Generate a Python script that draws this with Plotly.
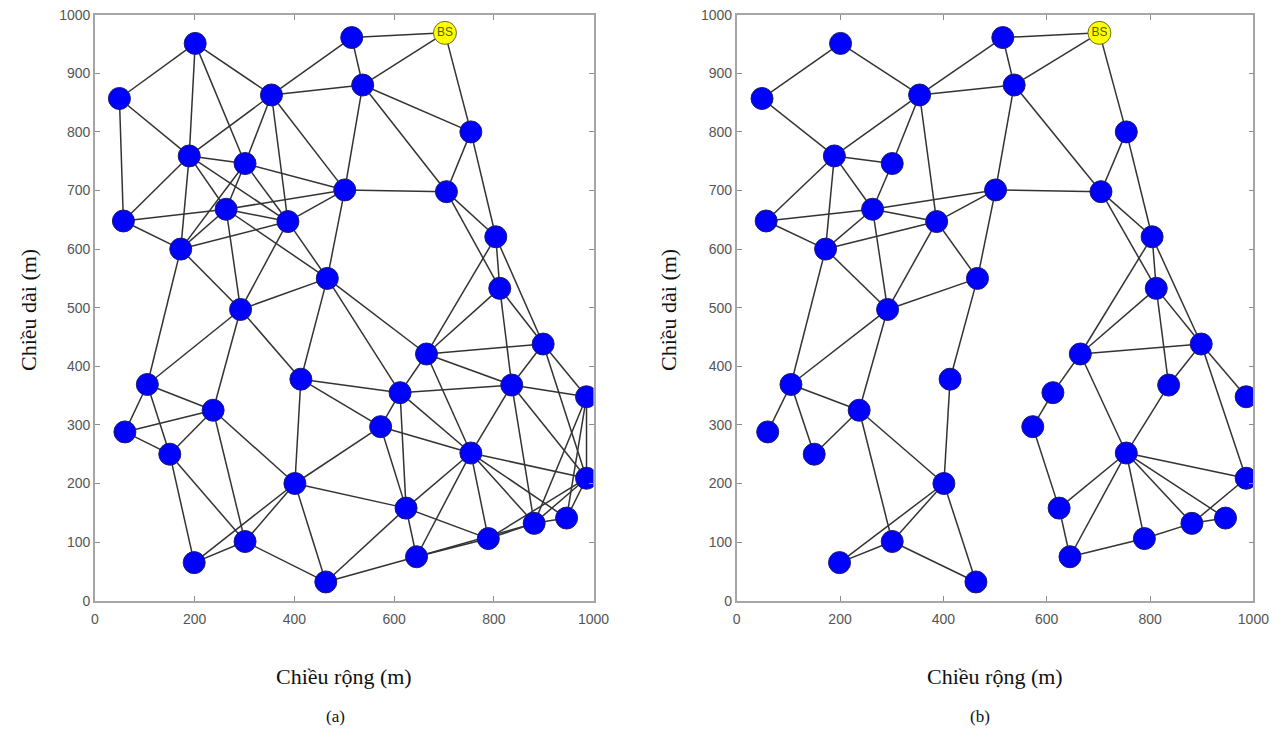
import plotly.graph_objects as go

# ---- data: node positions (node 3 is the base station BS) ----
node_ids = list(range(1, 42))
node_x = [201, 515, 702, 49, 354, 537, 754, 189, 301, 501,
          705, 57, 263, 387, 172, 804, 812, 466, 292, 665,
          899, 105, 413, 612, 836, 986, 60, 237, 573, 150,
          754, 986, 401, 624, 881, 946, 789, 199, 301, 463, 645]
node_y = [951, 961, 969, 857, 863, 880, 800, 759, 746, 701,
          698, 648, 668, 647, 600, 621, 533, 550, 497, 421,
          438, 369, 378, 355, 368, 348, 288, 325, 297, 250,
          252, 209, 200, 158, 132, 141, 106, 65, 101, 32, 75]
bs_id = 3

edges_a = [
    (1, 4), (1, 5), (1, 8), (1, 9), (2, 5), (2, 6), (2, 3), (5, 6), (5, 8), (5, 9),
    (5, 14), (5, 10), (6, 3), (6, 7), (6, 10), (6, 11), (3, 7), (4, 8), (4, 12),
    (8, 9), (8, 12), (8, 13), (8, 14), (8, 15), (9, 10), (9, 13), (9, 14), (9, 15),
    (12, 13), (13, 10), (12, 15), (13, 14), (13, 15), (13, 18), (13, 19),
    (14, 15), (14, 10), (14, 18), (14, 19), (15, 19), (15, 22), (10, 11), (10, 18),
    (7, 11), (7, 16), (11, 16), (11, 17), (16, 17), (16, 20), (16, 21), (17, 20),
    (17, 25), (17, 21), (18, 19), (18, 20), (18, 23), (18, 24), (19, 22), (19, 28),
    (19, 23), (22, 27), (22, 28), (22, 30), (27, 28), (27, 30), (28, 30), (28, 33),
    (28, 39), (30, 39), (30, 38), (38, 39), (38, 33), (39, 33), (39, 40),
    (23, 24), (23, 29), (23, 33), (20, 21), (20, 24), (20, 25), (20, 31),
    (21, 25), (25, 31), (21, 26), (21, 32), (24, 25), (24, 29), (24, 31), (24, 34),
    (29, 31), (29, 34), (29, 33), (25, 26), (25, 32), (25, 35), (26, 32), (26, 35),
    (26, 36), (31, 32), (31, 34), (31, 35), (31, 36), (31, 37), (31, 41),
    (32, 35), (32, 36), (32, 37), (35, 36), (35, 37), (35, 41), (34, 37), (34, 41),
    (33, 34), (34, 40), (40, 41), (37, 41), (33, 40),
]

edges_b = [
    (1, 4), (1, 5), (4, 8), (2, 5), (2, 6), (2, 3), (5, 6), (5, 8), (5, 9), (9, 13),
    (5, 14), (6, 3), (6, 10), (6, 11), (3, 7), (7, 11), (7, 16), (10, 11),
    (8, 9), (8, 12), (8, 13), (8, 15), (12, 13), (13, 10), (12, 15),
    (13, 14), (13, 15), (13, 19), (14, 15), (14, 10), (14, 18), (14, 19),
    (15, 19), (15, 22), (10, 18), (18, 19), (18, 23), (19, 22), (19, 28),
    (22, 27), (22, 28), (22, 30), (28, 30), (28, 33), (28, 39),
    (23, 33), (33, 38), (33, 39), (33, 40), (38, 39), (39, 40),
    (11, 16), (11, 17), (16, 17), (16, 20), (16, 21), (17, 20), (17, 25), (17, 21),
    (20, 21), (20, 24), (20, 31), (21, 25), (25, 31), (21, 26), (21, 32),
    (24, 29), (29, 34), (34, 31), (34, 41), (41, 31), (41, 37), (37, 31), (37, 35),
    (35, 36), (35, 32), (31, 35), (31, 36), (31, 32),
]

x_ticks = [0, 200, 400, 600, 800, 1000]
y_ticks = [0, 100, 200, 300, 400, 500, 600, 700, 800, 900, 1000]
x_title = "Chiều rộng (m)"
y_title = "Chiều dài (m)"
captions = ["(a)", "(b)"]

# page body has an 8px margin, so the figure is sized/placed to compensate
OFF = 8
W, H = 1287 - 2 * OFF, 738 - 2 * OFF


def px_x(p):
    return (p - OFF) / W


def px_y(p):
    return 1 - (p - OFF) / H


fig = go.Figure()


def edge_xy(edges):
    ex, ey = [], []
    for a, b in edges:
        ex += [node_x[a - 1], node_x[b - 1], None]
        ey += [node_y[a - 1], node_y[b - 1], None]
    return ex, ey


sensor_x = [node_x[i - 1] for i in node_ids if i != bs_id]
sensor_y = [node_y[i - 1] for i in node_ids if i != bs_id]

for k, edges in enumerate([edges_a, edges_b]):
    xa = "x" if k == 0 else "x2"
    ya = "y" if k == 0 else "y2"
    ex, ey = edge_xy(edges)
    fig.add_trace(go.Scatter(x=ex, y=ey, mode="lines", xaxis=xa, yaxis=ya,
                             line=dict(color="#333333", width=1.5),
                             hoverinfo="skip", showlegend=False))
    fig.add_trace(go.Scatter(x=sensor_x, y=sensor_y, mode="markers", xaxis=xa, yaxis=ya,
                             marker=dict(size=22, color="#0000FF",
                                         line=dict(color="#1c1c6e", width=1)),
                             showlegend=False))
    fig.add_trace(go.Scatter(x=[node_x[bs_id - 1]], y=[node_y[bs_id - 1]],
                             mode="markers+text", text=["BS"], textposition="middle center",
                             textfont=dict(family="Liberation Sans", size=12, color="#5e5e00"),
                             xaxis=xa, yaxis=ya,
                             marker=dict(size=23, color="#FFFF00",
                                         line=dict(color="#6b6b2a", width=1)),
                             showlegend=False))

ydom = [px_y(600.7), px_y(14.7)]
xdoms = [[px_x(95), px_x(593.5)], [px_x(736.7), px_x(1253.4)]]

axis_common = dict(range=[0, 1000], showline=True, linecolor="#a6a6a6", linewidth=1.6,
                   mirror="allticks", ticks="inside", ticklen=5, tickcolor="#8c8c8c",
                   tickwidth=1, showgrid=False, zeroline=False, automargin=False,
                   ticklabeloverflow="allow",
                   tickfont=dict(family="Liberation Sans", size=14, color="#555555"))

layout_axes = {}
for k in range(2):
    xs = "xaxis" if k == 0 else "xaxis2"
    ys = "yaxis" if k == 0 else "yaxis2"
    layout_axes[xs] = dict(domain=xdoms[k], tickvals=x_ticks, ticklabelstandoff=5,
                           anchor="y" if k == 0 else "y2", **axis_common)
    layout_axes[ys] = dict(domain=ydom, tickvals=y_ticks,
                           anchor="x" if k == 0 else "x2", **axis_common)

fig.update_layout(width=W, height=H, margin=dict(l=0, r=0, t=0, b=0, autoexpand=False),
                  paper_bgcolor="white", plot_bgcolor="white", **layout_axes)

title_font = dict(family="Liberation Serif", size=22, color="#111111")
cap_font = dict(family="Liberation Serif", size=17, color="#111111")
x_title_cx = [344, 995]
y_title_cx = [28, 668]
cap_cx = [335, 980]
for k in range(2):
    fig.add_annotation(x=px_x(x_title_cx[k]), y=px_y(676), xref="paper", yref="paper",
                       text=x_title, showarrow=False, font=title_font,
                       xanchor="center", yanchor="middle")
    fig.add_annotation(x=px_x(y_title_cx[k]), y=px_y(310), xref="paper", yref="paper",
                       text=y_title, textangle=-90, showarrow=False, font=title_font,
                       xanchor="center", yanchor="middle")
    fig.add_annotation(x=px_x(cap_cx[k]), y=px_y(716), xref="paper", yref="paper",
                       text=captions[k], showarrow=False, font=cap_font,
                       xanchor="center", yanchor="middle")

fig.write_html("out.html")
